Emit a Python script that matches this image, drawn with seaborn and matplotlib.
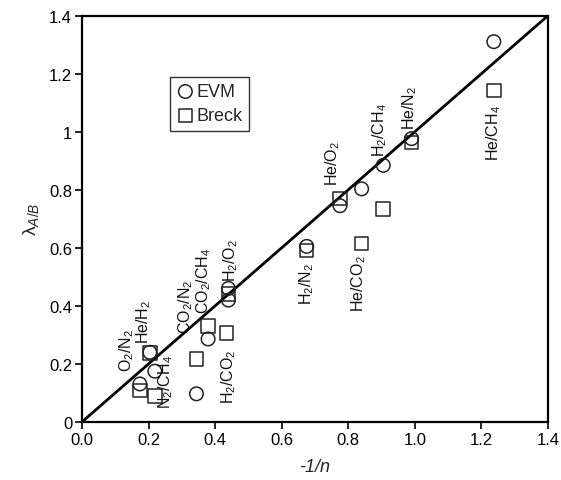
import matplotlib
matplotlib.use("Agg")
import matplotlib.pyplot as plt
import seaborn as sns
import pandas as pd

sns.set_theme(style="white")
plt.rcParams["font.family"] = ["Liberation Sans", "DejaVu Sans"]
plt.rcParams["mathtext.fontset"] = "custom"
plt.rcParams["mathtext.rm"] = "Liberation Sans"
plt.rcParams["mathtext.it"] = "Liberation Sans:italic"
plt.rcParams["mathtext.default"] = "regular"

# -1/n values and lambda_A/B values for each model
evm_x = [0.174, 0.204, 0.219, 0.344, 0.379, 0.44, 0.44, 0.675, 0.775, 0.84, 0.905, 0.99, 1.237]
evm_y = [0.131, 0.240, 0.175, 0.097, 0.286, 0.460, 0.420, 0.605, 0.745, 0.803, 0.884, 0.976, 1.310]
breck_x = [0.174, 0.204, 0.219, 0.344, 0.379, 0.434, 0.44, 0.675, 0.775, 0.84, 0.905, 0.99, 1.237]
breck_y = [0.108, 0.237, 0.090, 0.217, 0.330, 0.307, 0.440, 0.590, 0.770, 0.615, 0.734, 0.963, 1.142]

# gas-pair annotations: text, x, y (centre of rotated label)
pair_labels = [r"O$_2$/N$_2$", r"He/H$_2$", r"N$_2$/CH$_4$", r"CO$_2$/N$_2$", r"CO$_2$/CH$_4$",
               r"H$_2$/O$_2$", r"H$_2$/CO$_2$", r"H$_2$/N$_2$", r"He/CO$_2$", r"He/O$_2$",
               r"H$_2$/CH$_4$", r"He/N$_2$", r"He/CH$_4$"]
pair_x = [0.134, 0.184, 0.25, 0.311, 0.365, 0.446, 0.44, 0.675, 0.83, 0.752, 0.895, 0.985, 1.235]
pair_y = [0.25, 0.35, 0.14, 0.40, 0.49, 0.56, 0.16, 0.48, 0.48, 0.895, 1.01, 1.087, 1.0]

x_ticks = [0.0, 0.2, 0.4, 0.6, 0.8, 1.0, 1.2, 1.4]
y_ticks = [0, 0.2, 0.4, 0.6, 0.8, 1.0, 1.2, 1.4]
y_tick_labels = ["0", "0.2", "0.4", "0.6", "0.8", "1", "1.2", "1.4"]

df = pd.concat([
    pd.DataFrame({"x": evm_x, "y": evm_y, "model": "EVM"}),
    pd.DataFrame({"x": breck_x, "y": breck_y, "model": "Breck"}),
])

fig = plt.figure(figsize=(5.61, 4.81), dpi=100)
ax = fig.add_axes([0.146, 0.1206, 0.831, 0.845])

# parity line
ax.plot([0, 1.4], [0, 1.4], color="black", lw=2.0, zorder=1)

for model, marker in [("EVM", "o"), ("Breck", "s")]:
    sns.scatterplot(data=df[df["model"] == model], x="x", y="y", marker=marker,
                    s=95, facecolor="none", edgecolor="#222222", linewidth=1.1,
                    label=model, ax=ax, zorder=3)

for txt, lx, ly in zip(pair_labels, pair_x, pair_y):
    ax.text(lx, ly, txt, rotation=90, ha="center", va="center", fontsize=11.5, color="#111111")

ax.set_xlim(0, 1.4)
ax.set_ylim(0, 1.4)
ax.set_xticks(x_ticks)
ax.set_xticklabels([f"{v:.1f}" for v in x_ticks])
ax.set_yticks(y_ticks)
ax.set_yticklabels(y_tick_labels)
ax.tick_params(axis="both", which="both", direction="out", length=5, width=1.2,
               labelsize=12, colors="black", bottom=True, left=True, pad=2)
for sp in ax.spines.values():
    sp.set_color("black")
    sp.set_linewidth(1.6)

ax.set_xlabel("-1/n", fontsize=13, style="italic", labelpad=8)
ax.set_ylabel(r"$\lambda_{\mathit{A/B}}$", fontsize=14, labelpad=6)

leg = ax.legend(loc="upper left", bbox_to_anchor=(0.189, 0.849), frameon=True, fancybox=False,
                fontsize=13, handletextpad=0.1, handlelength=1.0, borderpad=0.35,
                labelspacing=0.4, borderaxespad=0)
leg.get_frame().set_edgecolor("black")
leg.get_frame().set_linewidth(1.0)

fig.savefig("out.png", dpi=100)
